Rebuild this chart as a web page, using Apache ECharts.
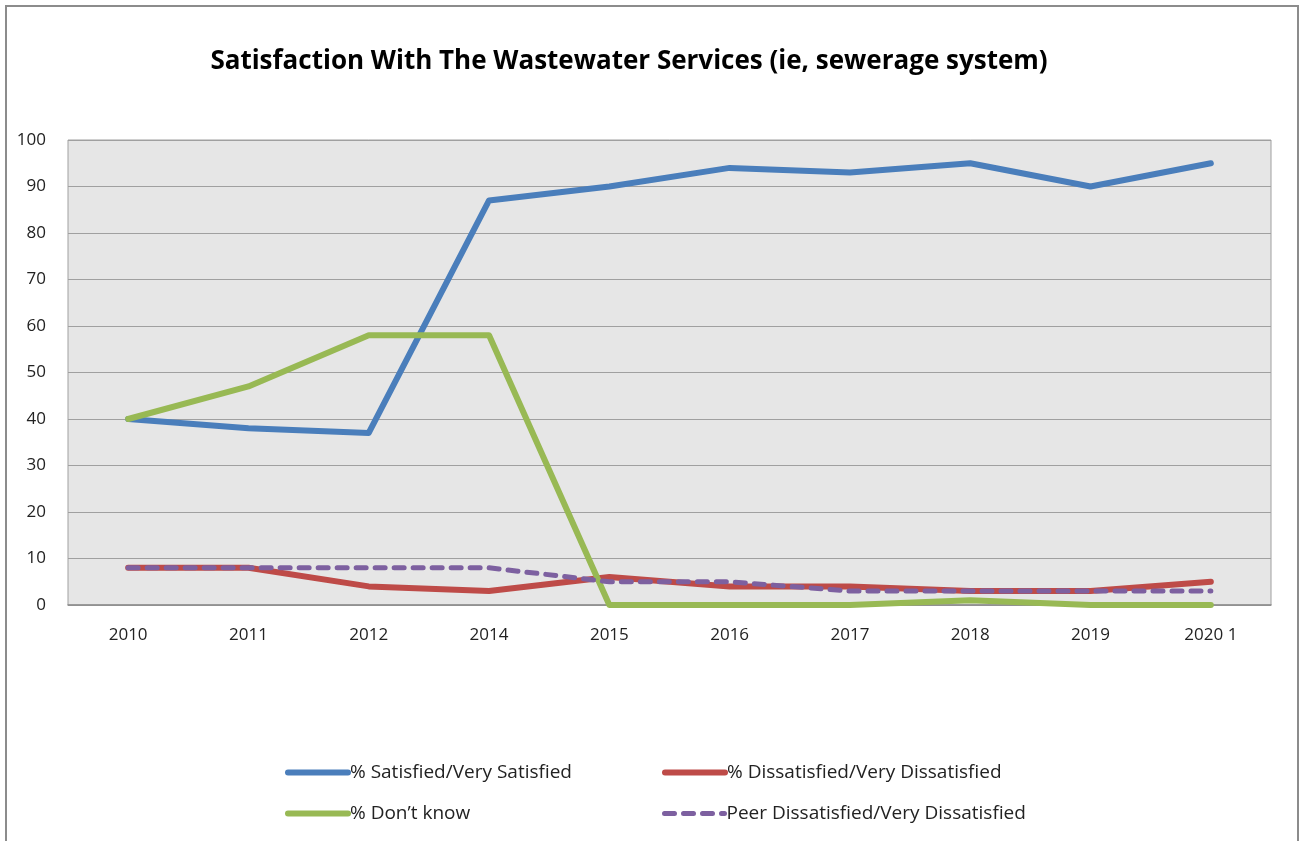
<!DOCTYPE html>
<html>
<head>
<meta charset="utf-8">
<script src="https://cdn.jsdelivr.net/npm/echarts@6/dist/echarts.min.js"></script>
<style>
  html, body { margin: 0; padding: 0; background: #fff; }
  #frame {
    position: absolute; left: 5px; top: 5px; width: 1294px; height: 850px;
    border: 2px solid #8c8c8c; box-sizing: border-box;
  }
  #chart { position: absolute; left: 0; top: 0; width: 1306px; height: 841px; }
</style>
</head>
<body>
<div id="frame"></div>
<div id="chart"></div>
<script>
// 图表数据
const years = ["2010", "2011", "2012", "2014", "2015", "2016", "2017", "2018", "2019", "2020 1"];
const satisfied = [40, 38, 37, 87, 90, 94, 93, 95, 90, 95];
const dissatisfied = [8, 8, 4, 3, 6, 4, 4, 3, 3, 5];
const dontKnow = [40, 47, 58, 58, 0, 0, 0, 1, 0, 0];
const peerDissatisfied = [8, 8, 8, 8, 5, 5, 3, 3, 3, 3];

const names = [
  "% Satisfied/Very Satisfied",
  "% Dissatisfied/Very Dissatisfied",
  "% Don\u2019t know",
  "Peer Dissatisfied/Very Dissatisfied",
];
const colors = ["#4a7ebb", "#be4b48", "#98b954", "#7d60a0"];

const font = '"Open Sans", "Noto Sans", sans-serif';
const chart = echarts.init(document.getElementById("chart"));

// 图例逐项定位，线段样式跟随系列
const legendItem = (i, left, top) => ({
  data: [names[i]],
  left: left,
  top: top,
  padding: 0,
  itemWidth: 60,
  itemHeight: 14,
  itemGap: 0,
  itemStyle: { opacity: 0 },
  lineStyle: {
    color: colors[i],
    width: i === 3 ? 5 : 6,
    type: i === 3 ? [10, 9] : "solid",
    cap: "round",
  },
  textStyle: { fontFamily: font, fontSize: 19, color: "#222", padding: [0, 0, 0, -3] },
  selectedMode: false,
});

const lineSeries = (i, data) => ({
  name: names[i],
  type: "line",
  data: data,
  showSymbol: false,
  symbol: "none",
  color: colors[i],
  lineStyle: {
    color: colors[i],
    width: i === 3 ? 5 : 6,
    type: i === 3 ? [10, 9] : "solid",
    cap: "round",
    join: "round",
  },
  emphasis: { disabled: true },
  animation: false,
});

chart.setOption({
  textStyle: { fontFamily: font },
  title: {
    text: "Satisfaction With The Wastewater Services (ie, sewerage system)",
    left: 624,
    top: 44,
    textAlign: "center",
    textStyle: { fontFamily: font, fontSize: 26, fontWeight: "bold", color: "#000" },
  },
  legend: [
    legendItem(0, 285, 763),
    legendItem(1, 662, 763),
    legendItem(2, 285, 804),
    legendItem(3, 662, 804),
  ],
  grid: {
    left: 68,
    top: 140,
    right: 35,
    bottom: 236,
    show: true,
    backgroundColor: "#e6e6e6",
    borderColor: "#a0a0a0",
    borderWidth: 1,
  },
  xAxis: {
    type: "category",
    data: years,
    boundaryGap: true,
    axisLine: { lineStyle: { color: "#8c8c8c", width: 1.5 } },
    axisTick: { show: false },
    axisLabel: { fontFamily: font, fontSize: 17, color: "#222", margin: 22 },
  },
  yAxis: {
    type: "value",
    min: 0,
    max: 100,
    interval: 10,
    axisLine: { show: false },
    axisTick: { show: false },
    axisLabel: { fontFamily: font, fontSize: 17, color: "#222", margin: 22 },
    splitLine: { lineStyle: { color: "#a0a0a0", width: 1.2 } },
  },
  series: [
    lineSeries(0, satisfied),
    lineSeries(1, dissatisfied),
    lineSeries(2, dontKnow),
    lineSeries(3, peerDissatisfied),
  ],
});
</script>
</body>
</html>
